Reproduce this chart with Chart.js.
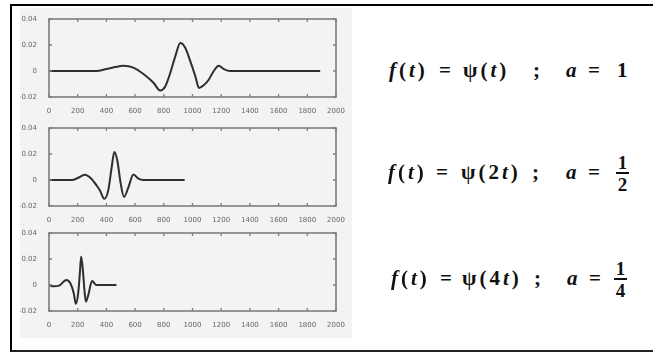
<!DOCTYPE html>
<html>
<head>
<meta charset="utf-8">
<script src="https://cdn.jsdelivr.net/npm/chart.js@4"></script>
<style>
  html, body { margin:0; padding:0; background:#fff; width:653px; height:353px; overflow:hidden; }
  #frame { position:absolute; left:10px; top:4px; width:643px; height:348px; border-top:2px solid #000; border-left:2px solid #000; border-bottom:2px solid #222; box-sizing:border-box; }
  #panel { position:absolute; left:20px; top:8px; width:332px; height:330px; background:#f3f3f3; }
  canvas.plot { position:absolute; left:20px; }
  .eq { position:absolute; font-family:"Liberation Serif","DejaVu Serif",serif; font-weight:bold; font-size:21px; letter-spacing:3px; color:#111; line-height:22px; white-space:nowrap; }
  .it { font-style:italic; }
  .frac { position:absolute; font-family:"Liberation Serif",serif; font-weight:bold; font-size:19px; color:#111; text-align:center; line-height:15px; width:13px; }
  .frac .bar { height:2px; background:#111; margin:2px 0 3px 0; }
</style>
</head>
<body>
<div id="frame"></div>
<div id="panel"></div>
<canvas class="plot" id="c1" width="332" height="110" style="top:7px"></canvas>
<canvas class="plot" id="c2" width="332" height="110" style="top:116px"></canvas>
<canvas class="plot" id="c3" width="332" height="110" style="top:221px"></canvas>

<div id="eqs"></div>

<script>
// ---- data ----
const xTickLabels = ["0","200","400","600","800","1000","1200","1400","1600","1800","2000"];
const yTickLabels = ["-0.02","0","0.02","0.04"];

// f(t) = psi(t)
const t1 = [0, 330, 400, 460, 518, 588, 658, 728, 775, 810, 845, 880, 915, 950, 985, 1020, 1045, 1078, 1113, 1148, 1183, 1218, 1265, 1890];
const v1 = [0, 0, 0.0015, 0.003, 0.004, 0.0026, -0.0023, -0.009, -0.015, -0.012, -0.0015, 0.0113, 0.0215, 0.0177, 0.0074, -0.0041, -0.013, -0.011, -0.0067, 0, 0.0041, 0.0015, 0, 0];
// f(t) = psi(2t)
const t2 = [0, 160, 200, 250, 290, 330, 355, 385, 413, 437, 455, 476, 500, 523, 553, 588, 623, 658, 945];
const v2 = [0, 0, 0.0015, 0.004, 0.0015, -0.004, -0.008, -0.0145, -0.008, 0.01, 0.0215, 0.015, -0.003, -0.013, -0.0057, 0.0043, 0.001, 0, 0];
// f(t) = psi(4t)
const t3 = [0, 30, 70, 121, 149, 173, 187, 203, 215, 224, 236, 247, 257, 273, 300, 331, 470];
const v3 = [0, -0.001, -0.0005, 0.0039, 0.0013, -0.0066, -0.0145, -0.0066, 0.009, 0.022, 0.0116, -0.004, -0.0128, -0.008, 0.003, 0, 0];

const equations = [
  {top: 59, parts: [["f(t)",389,true],["=",439,false],["ψ(t)",463,false],[";",533,false],["a",566,true],["=",588,false],["1",617,false]], frac: null},
  {top: 161, parts: [["f(t)",388,true],["=",436,false],["ψ(2t)",461,false],[";",532,false],["a",566,true],["=",588,false]], frac: ["1","2",616]},
  {top: 267, parts: [["f(t)",391,true],["=",440,false],["ψ(4t)",462,false],[";",534,false],["a",567,true],["=",589,false]], frac: ["1","4",614]}
];

// ---- render equations as text ----
function styled(txt){
  return txt.replace(/[fta]/g, m => '<span class="it">'+m+'</span>');
}
const eqs = document.getElementById('eqs');
equations.forEach(e => {
  e.parts.forEach(p => {
    const d = document.createElement('div');
    d.className = 'eq';
    d.style.left = p[1] + 'px';
    d.style.top = e.top + 'px';
    d.innerHTML = styled(p[0]);
    eqs.appendChild(d);
  });
  if (e.frac) {
    const f = document.createElement('div');
    f.className = 'frac';
    f.style.left = e.frac[2] + 'px';
    f.style.top = (e.top - 6) + 'px';
    f.innerHTML = '<div>'+e.frac[0]+'</div><div class="bar"></div><div>'+e.frac[1]+'</div>';
    eqs.appendChild(f);
  }
});

// ---- frame + inward ticks plugin ----
const framePlugin = {
  id: 'matlabFrame',
  afterDatasetsDraw(chart) {
    const {ctx, chartArea: a, scales} = chart;
    ctx.save();
    ctx.strokeStyle = '#7d7d7d';
    ctx.lineWidth = 1.6;
    ctx.strokeRect(a.left, a.top, a.right - a.left, a.bottom - a.top);
    ctx.lineWidth = 1.3;
    const L = 3;
    scales.x.ticks.forEach(t => {
      const px = scales.x.getPixelForValue(t.value);
      ctx.beginPath();
      ctx.moveTo(px, a.bottom); ctx.lineTo(px, a.bottom - L);
      ctx.moveTo(px, a.top); ctx.lineTo(px, a.top + L);
      ctx.stroke();
    });
    scales.y.ticks.forEach(t => {
      const py = scales.y.getPixelForValue(t.value);
      ctx.beginPath();
      ctx.moveTo(a.left, py); ctx.lineTo(a.left + L, py);
      ctx.moveTo(a.right, py); ctx.lineTo(a.right - L, py);
      ctx.stroke();
    });
    ctx.restore();
  }
};

function makeChart(id, ts, vs) {
  const pts = ts.map((t, i) => ({x: t, y: vs[i]}));
  return new Chart(document.getElementById(id), {
    type: 'line',
    data: { datasets: [{ data: pts, borderColor: '#2e2e2e', borderWidth: 2, pointRadius: 0, tension: 0.4, cubicInterpolationMode: 'monotone', fill: false }] },
    options: {
      responsive: false, animation: false,
      events: [],
      layout: { padding: { top: 12, right: 16, left: 0, bottom: 0 } },
      plugins: { legend: { display: false }, tooltip: { enabled: false } },
      scales: {
        x: {
          type: 'linear', min: 0, max: 2000,
          afterFit: s => { s.height = 20; },
          grid: { display: false }, border: { display: false },
          ticks: { stepSize: 200, autoSkip: false, maxRotation: 0, padding: 2, color: '#666',
                   font: { family: 'DejaVu Sans', size: 7 },
                   callback: (v) => { const i = Math.round(v / 200); return xTickLabels[i]; } }
        },
        y: {
          min: -0.02, max: 0.04,
          afterFit: s => { s.width = 29; },
          grid: { display: false }, border: { display: false },
          ticks: { stepSize: 0.02, padding: 4, color: '#666',
                   font: { family: 'DejaVu Sans', size: 7 },
                   callback: (v) => { const i = Math.round((v + 0.02) / 0.02); return yTickLabels[i]; } }
        }
      }
    },
    plugins: [framePlugin]
  });
}

makeChart('c1', t1, v1);
makeChart('c2', t2, v2);
makeChart('c3', t3, v3);
</script>
</body>
</html>
